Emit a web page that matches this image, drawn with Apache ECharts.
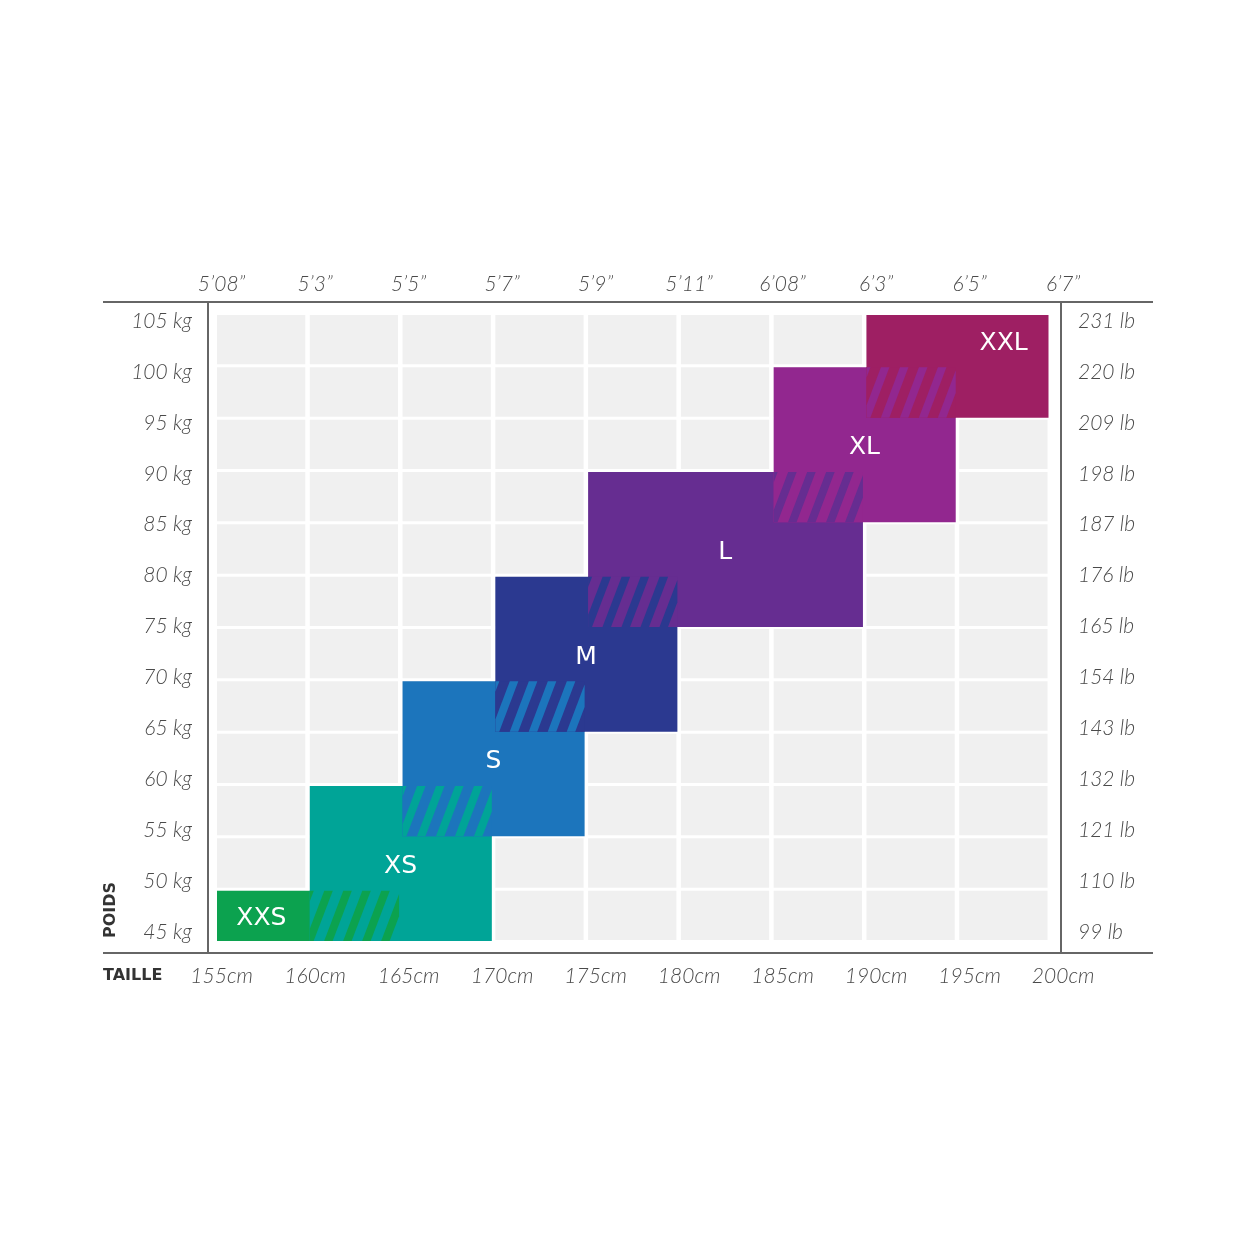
<!DOCTYPE html>
<html>
<head>
<meta charset="utf-8">
<script src="https://cdn.jsdelivr.net/npm/echarts@6/dist/echarts.min.js"></script>
<style>html,body{margin:0;padding:0;background:#fff}#chart{width:1250px;height:1250px}</style>
</head>
<body>
<div id="chart"></div>
<script>
// ---- data ----
const heightTicksCm = [155, 160, 165, 170, 175, 180, 185, 190, 195, 200];
const heightTicksFt = ['5’08”', '5’3”', '5’5”', '5’7”', '5’9”', '5’11”', '6’08”', '6’3”', '6’5”', '6’7”'];
const weightTicksKg = [45, 50, 55, 60, 65, 70, 75, 80, 85, 90, 95, 100, 105];
const weightTicksLb = ['99 lb', '110 lb', '121 lb', '132 lb', '143 lb', '154 lb', '165 lb', '176 lb', '187 lb', '198 lb', '209 lb', '220 lb', '231 lb'];
const sizeNames = ['XXS', 'XS', 'S', 'M', 'L', 'XL', 'XXL'];
const sizeHeightFrom = [155, 160, 165, 170, 175, 185, 190];
const sizeHeightTo = [165, 170, 175, 180, 190, 195, 200];
const sizeWeightFrom = [45, 45, 55, 65, 75, 85, 95];
const sizeWeightTo = [50, 60, 70, 80, 90, 100, 105];
const sizeColors = ['#0ca24f', '#00a497', '#1c75bc', '#2b3990', '#662d91', '#92278f', '#9e1f63'];

// ---- derived ----
const HSTEP = heightTicksCm[1] - heightTicksCm[0];
const WSTEP = weightTicksKg[1] - weightTicksKg[0];
const hMin = heightTicksCm[0], hMax = heightTicksCm[heightTicksCm.length - 1];
const wMin = weightTicksKg[0], wMax = weightTicksKg[weightTicksKg.length - 1];

// layout: grid spans 215..1070 px; cells occupy 215..1050
const GRID_L = 215, GRID_R = 1070, CELL_R = 1050;
const pxPerCm = (CELL_R - GRID_L) / (hMax - hMin);
const dataXMax = hMin + (GRID_R - GRID_L) / pxPerCm;
// label axis (slightly different scale, as in the printed chart)
const lblPxPerCm = 18.7, lblStart = 221.6;
const lblXMin = hMin - (lblStart - GRID_L) / lblPxPerCm;
const lblXMax = lblXMin + (GRID_R - GRID_L) / lblPxPerCm;

const cellData = [];
for (let i = 0; i < heightTicksCm.length - 1; i++)
  for (let j = 0; j < weightTicksKg.length - 1; j++)
    cellData.push([heightTicksCm[i], weightTicksKg[j]]);

const boxData = sizeNames.map((n, i) => [sizeHeightFrom[i], sizeWeightFrom[i], sizeHeightTo[i], sizeWeightTo[i], i]);
const overlapData = [];
for (let i = 0; i < sizeNames.length - 1; i++) {
  overlapData.push([
    Math.max(sizeHeightFrom[i], sizeHeightFrom[i + 1]),
    Math.max(sizeWeightFrom[i], sizeWeightFrom[i + 1]),
    Math.min(sizeHeightTo[i], sizeHeightTo[i + 1]),
    Math.min(sizeWeightTo[i], sizeWeightTo[i + 1]),
    i
  ]);
}
const labelData = sizeNames.map((n, i) => {
  let x = (sizeHeightFrom[i] + sizeHeightTo[i]) / 2, y = (sizeWeightFrom[i] + sizeWeightTo[i]) / 2;
  if (i === 0) { x = sizeHeightFrom[i] + HSTEP / 2; y = sizeWeightFrom[i] + WSTEP / 2; }
  if (i === sizeNames.length - 1) { x = sizeHeightTo[i] - HSTEP / 2; y = sizeWeightTo[i] - WSTEP / 2; }
  return [x, y, i];
});

// ---- helpers ----
function clipAgainst(pts, inside, intersect) {
  const out = [];
  for (let i = 0; i < pts.length; i++) {
    const cur = pts[i], prev = pts[(i + pts.length - 1) % pts.length];
    const ci = inside(cur), pi = inside(prev);
    if (ci) { if (!pi) out.push(intersect(prev, cur)); out.push(cur); }
    else if (pi) out.push(intersect(prev, cur));
  }
  return out;
}
function clipRect(pts, x0, y0, x1, y1) {
  const ix = (a, b, x) => { const t = (x - a[0]) / (b[0] - a[0]); return [x, a[1] + t * (b[1] - a[1])]; };
  const iy = (a, b, y) => { const t = (y - a[1]) / (b[1] - a[1]); return [a[0] + t * (b[0] - a[0]), y]; };
  pts = clipAgainst(pts, p => p[0] >= x0, (a, b) => ix(a, b, x0));
  if (!pts.length) return pts;
  pts = clipAgainst(pts, p => p[0] <= x1, (a, b) => ix(a, b, x1));
  if (!pts.length) return pts;
  pts = clipAgainst(pts, p => p[1] >= y0, (a, b) => iy(a, b, y0));
  if (!pts.length) return pts;
  pts = clipAgainst(pts, p => p[1] <= y1, (a, b) => iy(a, b, y1));
  return pts;
}
function boxRect(api, a, b, c, d) {
  const tl = api.coord([a, d]), br = api.coord([c, b]);
  const x = tl[0] + 2, y = tl[1] + 2;
  return { x: x, y: y, width: br[0] - 1.5 - x, height: br[1] - y };
}

const tickFont = { color: '#4a4a4a', fontSize: 21, fontStyle: 'italic', fontWeight: 300, fontFamily: 'Lato' };
const hidden = { axisLine: { show: false }, axisTick: { show: false }, splitLine: { show: false } };

const chart = echarts.init(document.getElementById('chart'), null, { renderer: 'canvas' });
chart.setOption({
  backgroundColor: '#ffffff',
  animation: false,
  grid: { left: GRID_L, right: 1250 - GRID_R, top: 313, bottom: 309 },
  xAxis: [
    { type: 'value', min: hMin, max: dataXMax, show: false },
    Object.assign({
      type: 'value', min: lblXMin, max: lblXMax, position: 'bottom',
      axisLabel: Object.assign({ margin: 25, customValues: heightTicksCm, formatter: v => Math.round(v) + 'cm' }, tickFont)
    }, hidden),
    Object.assign({
      type: 'value', min: lblXMin, max: lblXMax, position: 'top',
      axisLabel: Object.assign({ margin: 18, customValues: heightTicksCm,
        formatter: v => heightTicksFt[heightTicksCm.indexOf(Math.round(v))] }, tickFont)
    }, hidden)
  ],
  yAxis: [
    { type: 'value', min: wMin, max: wMax, show: false },
    Object.assign({
      type: 'value', min: 44.12, max: 105.79, position: 'left',
      axisLabel: Object.assign({ margin: 23, customValues: weightTicksKg, formatter: v => Math.round(v) + ' kg' }, tickFont)
    }, hidden),
    Object.assign({
      type: 'value', min: 44.12, max: 105.79, position: 'right',
      axisLabel: Object.assign({ margin: 8, customValues: weightTicksKg,
        formatter: v => weightTicksLb[weightTicksKg.indexOf(Math.round(v))] }, tickFont)
    }, hidden)
  ],
  graphic: [
    { type: 'line', silent: true, shape: { x1: 103, y1: 302, x2: 1153, y2: 302 }, style: { stroke: '#666', lineWidth: 2 } },
    { type: 'line', silent: true, shape: { x1: 103, y1: 953, x2: 1153, y2: 953 }, style: { stroke: '#666', lineWidth: 2 } },
    { type: 'line', silent: true, shape: { x1: 208, y1: 302, x2: 208, y2: 953 }, style: { stroke: '#666', lineWidth: 2 } },
    { type: 'line', silent: true, shape: { x1: 1061, y1: 302, x2: 1061, y2: 953 }, style: { stroke: '#666', lineWidth: 2 } },
    { type: 'text', silent: true, x: 111, y: 910, rotation: Math.PI / 2,
      style: { text: 'POIDS', fill: '#333', fontSize: 16, fontWeight: 'bold', fontFamily: 'DejaVu Sans', align: 'center', verticalAlign: 'middle' } },
    { type: 'text', silent: true, x: 103, y: 976,
      style: { text: 'TAILLE', fill: '#333', fontSize: 16, fontWeight: 'bold', fontFamily: 'DejaVu Sans', align: 'left', verticalAlign: 'middle' } }
  ],
  series: [
    {
      type: 'custom', name: 'cells', silent: true, z: 1,
      xAxisIndex: 0, yAxisIndex: 0,
      encode: { x: 0, y: 1 },
      data: cellData,
      renderItem: (params, api) => {
        const x0 = api.value(0), y0 = api.value(1);
        const tl = api.coord([x0, y0 + WSTEP]), br = api.coord([x0 + HSTEP, y0]);
        return { type: 'rect', shape: { x: tl[0] + 2, y: tl[1] + 2, width: br[0] - tl[0] - 4.5, height: br[1] - tl[1] - 3 },
          style: { fill: '#f0f0f0' } };
      }
    },
    {
      type: 'custom', name: 'sizes', silent: true, z: 2,
      xAxisIndex: 0, yAxisIndex: 0,
      encode: { x: [0, 2], y: [1, 3] },
      data: boxData,
      renderItem: (params, api) => {
        const r = boxRect(api, api.value(0), api.value(1), api.value(2), api.value(3));
        return { type: 'rect', shape: r, style: { fill: sizeColors[api.value(4)] } };
      }
    },
    {
      type: 'custom', name: 'overlaps', silent: true, z: 3,
      xAxisIndex: 0, yAxisIndex: 0,
      encode: { x: [0, 2], y: [1, 3] },
      data: overlapData,
      renderItem: (params, api) => {
        const idx = api.value(4);
        const r = boxRect(api, api.value(0), api.value(1), api.value(2), api.value(3));
        const x0 = r.x, y0 = r.y, x1 = r.x + r.width, y1 = r.y + r.height, h = r.height;
        const P = 19, W = 8.5, s = 0.38;
        const children = [{ type: 'rect', shape: r, style: { fill: sizeColors[idx + 1] } }];
        for (let bx = x0 - s * h - W + 4; bx < x1; bx += P) {
          const poly = clipRect([[bx, y1], [bx + W, y1], [bx + W + s * h, y0], [bx + s * h, y0]], x0, y0, x1, y1);
          if (poly.length >= 3) children.push({ type: 'polygon', shape: { points: poly }, style: { fill: sizeColors[idx] } });
        }
        return { type: 'group', children: children };
      }
    },
    {
      type: 'custom', name: 'labels', silent: true, z: 4,
      xAxisIndex: 0, yAxisIndex: 0,
      encode: { x: 0, y: 1 },
      data: labelData,
      renderItem: (params, api) => {
        const p = api.coord([api.value(0), api.value(1)]);
        return { type: 'text', x: p[0], y: p[1] + 4,
          style: { text: sizeNames[api.value(2)], fill: '#ffffff', fontSize: 25, fontFamily: 'DejaVu Sans', align: 'center', verticalAlign: 'middle' } };
      }
    }
  ]
});
</script>
</body>
</html>
